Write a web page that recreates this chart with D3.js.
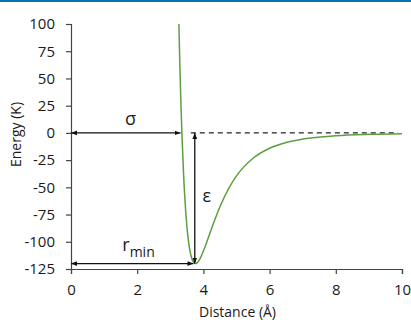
<!DOCTYPE html>
<html>
<head>
<meta charset="utf-8">
<script src="https://cdn.jsdelivr.net/npm/d3@7"></script>
<style>
  body { margin: 0; background: #fff; }
  svg text { font-family: "Open Sans", sans-serif; fill: #1a1a1a; }
</style>
</head>
<body>
<div id="chart"></div>
<script>
// Lennard-Jones curve
const distance = [3.26, 3.28, 3.30, 3.32, 3.35, 3.40, 3.45, 3.50, 3.55, 3.60, 3.65, 3.70, 3.76, 3.80, 3.90, 4.00, 4.25, 4.50, 4.75, 5.00, 5.50, 6.00, 6.50, 7.00, 8.00, 9.00, 10.0];
const energy   = [100, 73.6, 49.6, 28.1, 0, -37.4, -65.1, -85.3, -99.6, -109.3, -115.4, -118.8, -120, -119.5, -115.4, -108.5, -87.5, -67.8, -51.8, -39.5, -23.3, -14.1, -8.8, -5.7, -2.6, -1.3, -0.7];

const xTicks = [0, 2, 4, 6, 8, 10];
const yTicks = [100, 75, 50, 25, 0, -25, -50, -75, -100, -125];

// annotation values
const sigmaEnd = 3.31;
const rMinEnd = 3.70;
const epsX = 3.74;
const epsDepth = -120;
const dashFrom = 3.62, dashTo = 9.88;

let margin = {top: 24, right: 9, bottom: 55, left: 71};
let width = 411 - margin.left - margin.right;
let height = 324 - margin.top - margin.bottom;

let svg = d3.select("#chart").append("svg")
    .attr("width", 411)
    .attr("height", 324);

// blue rule at the very top
svg.append("rect")
    .attr("x", 0).attr("y", 0)
    .attr("width", 411).attr("height", 2)
    .attr("fill", "#0a6fb5");

let defs = svg.append("defs");
["start", "end"].forEach(k => {
    defs.append("marker")
        .attr("id", "arrow-" + k)
        .attr("viewBox", "0 0 10 10")
        .attr("refX", k == "end" ? 10 : 0)
        .attr("refY", 5)
        .attr("markerWidth", 6)
        .attr("markerHeight", 6)
        .attr("markerUnits", "userSpaceOnUse")
        .attr("orient", "auto")
        .append("path")
        .attr("d", k == "end" ? "M0,1 L10,5 L0,9 Z" : "M10,1 L0,5 L10,9 Z")
        .attr("fill", "#111");
});

let g = svg.append("g")
    .attr("transform", "translate(" + margin.left + "," + margin.top + ")");

let x = d3.scaleLinear().domain([0, 10]).range([0, width]);
let y = d3.scaleLinear().domain([-125, 100]).range([height, 0]);

// axes (plain hyphen for negatives, like the original)
let fmt = d => String(d);
let xAxis = g.append("g")
    .attr("transform", "translate(0," + height + ")")
    .call(d3.axisBottom(x).tickValues(xTicks).tickFormat(fmt).tickSize(5).tickSizeOuter(5).tickPadding(10));
let yAxis = g.append("g")
    .call(d3.axisLeft(y).tickValues(yTicks).tickFormat(fmt).tickSize(5).tickSizeOuter(5).tickPadding(11));

[xAxis, yAxis].forEach(a => {
    a.select(".domain").attr("stroke", "#444").attr("stroke-width", 1.2);
    a.selectAll(".tick line").attr("stroke", "#444").attr("stroke-width", 1.2);
    a.selectAll(".tick text").attr("font-size", 15).attr("font-family", "Open Sans").attr("fill", "#1a1a1a");
});

// axis titles
g.append("text")
    .attr("x", width / 2 + 1)
    .attr("y", height + 48)
    .attr("text-anchor", "middle")
    .attr("font-size", 14)
    .text("Distance (Å)");

g.append("text")
    .attr("transform", "translate(" + (-50) + "," + (height / 2 - 12) + ") rotate(-90)")
    .attr("text-anchor", "middle")
    .attr("font-size", 14)
    .text("Energy (K)");

// dashed zero line
g.append("line")
    .attr("x1", x(dashFrom)).attr("x2", x(dashTo))
    .attr("y1", y(0)).attr("y2", y(0))
    .attr("stroke", "#222")
    .attr("stroke-width", 1.3)
    .attr("stroke-dasharray", "5,4");

// curve
let line = d3.line()
    .x((d, i) => x(distance[i]))
    .y(d => y(d))
    .curve(d3.curveMonotoneX);

g.append("path")
    .datum(energy)
    .attr("fill", "none")
    .attr("stroke", "#5e9e3e")
    .attr("stroke-width", 1.5)
    .attr("d", line);

// arrows
function arrow(x1, y1, x2, y2) {
    g.append("line")
        .attr("x1", x1).attr("y1", y1)
        .attr("x2", x2).attr("y2", y2)
        .attr("stroke", "#111")
        .attr("stroke-width", 1.3)
        .attr("marker-start", "url(#arrow-start)")
        .attr("marker-end", "url(#arrow-end)");
}
arrow(x(0), y(0), x(sigmaEnd), y(0));
arrow(x(0), y(epsDepth), x(rMinEnd), y(epsDepth));
arrow(x(epsX), y(0), x(epsX), y(epsDepth));

// annotation labels
g.append("text")
    .attr("x", x(1.8))
    .attr("y", y(0) - 8)
    .attr("text-anchor", "middle")
    .attr("font-size", 18)
    .text("σ");

g.append("text")
    .attr("x", x(4.1))
    .attr("y", y(-58) + 6)
    .attr("text-anchor", "middle")
    .attr("font-size", 18)
    .text("ε");

let rmin = g.append("text")
    .attr("x", x(1.55))
    .attr("y", y(epsDepth) - 13)
    .attr("font-size", 18);
rmin.append("tspan").text("r");
rmin.append("tspan").attr("font-size", 14).attr("dy", 6).text("min");
</script>
</body>
</html>
